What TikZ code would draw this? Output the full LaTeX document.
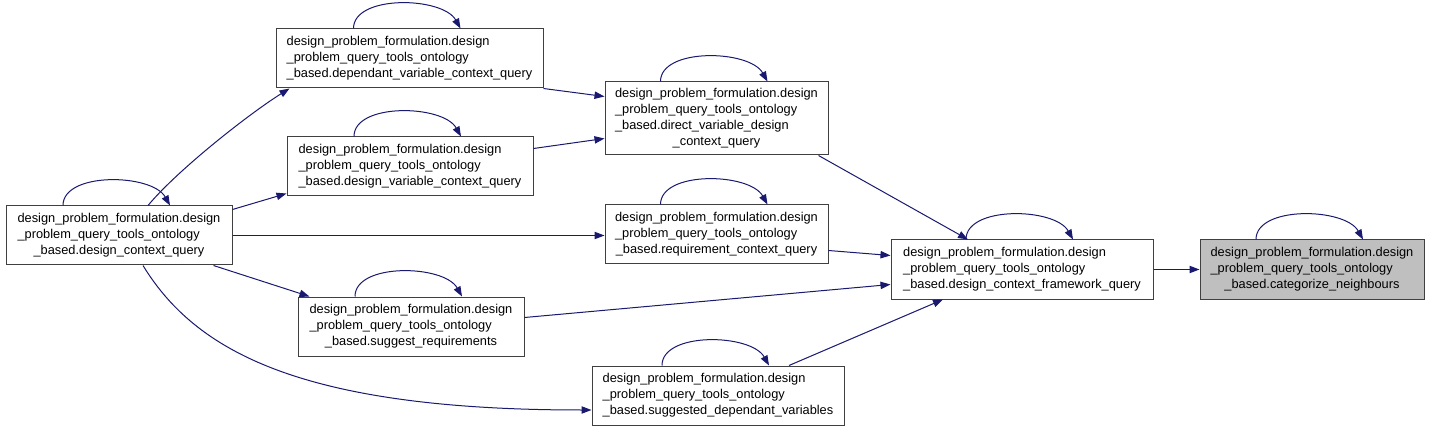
\documentclass[tikz,border=0pt]{standalone}
\usepackage{fontspec}
\setmainfont{Liberation Sans}
\usepackage{tikz}
\usetikzlibrary{arrows.meta,positioning,calc}
\definecolor{edgeblue}{HTML}{191970}
\newcommand{\fname}[2]{\begin{tabular}{@{}l@{}}#1\\\multicolumn{1}{@{}c@{}}{#2}\end{tabular}}
\tikzstyle{func} = [rectangle, draw=black!75, line width=0.75pt, fill=white, inner sep=1pt, minimum height=44.25pt, font=\fontsize{9.6}{12}\selectfont]
\tikzstyle{focus} = [func, fill=black!25]
\tikzstyle{call} = [edgeblue, line width=0.75pt, -{Triangle[length=7.5pt,width=5.5pt]}]

\begin{document}
\begin{tikzpicture}[x=0.75pt, y=-0.75pt, node distance=225pt]
    \useasboundingbox (0,0) rectangle (1429,431);

    % Entry query
    \node [func, minimum width=169.5pt] (ctx) at (119,235.5) {\fname{design\_problem\_formulation.design\\\_problem\_query\_tools\_ontology}{\_based.design\_context\_query}};

    % Second column
    \node [func, minimum width=200.25pt, right of=ctx, xshift=-7.125pt, yshift=132.75pt] (dep) {\fname{design\_problem\_formulation.design\\\_problem\_query\_tools\_ontology}{\_based.dependant\_variable\_context\_query}};
    \node [func, minimum width=184.5pt, right of=ctx, xshift=-6.75pt, yshift=51.75pt] (dvar) {\fname{design\_problem\_formulation.design\\\_problem\_query\_tools\_ontology}{\_based.design\_variable\_context\_query}};
    \node [func, minimum width=169.5pt, right of=ctx, xshift=-6pt, yshift=-68.25pt] (sreq) {\fname{design\_problem\_formulation.design\\\_problem\_query\_tools\_ontology}{\_based.suggest\_requirements}};

    % Third column
    \node [func, minimum width=167.25pt, minimum height=54.75pt, right of=dep, xshift=5.25pt, yshift=-45pt] (direct) {\fname{design\_problem\_formulation.design\\\_problem\_query\_tools\_ontology\\\_based.direct\_variable\_design}{\_context\_query}};
    \node [func, minimum width=167.25pt, right of=dvar, xshift=4.875pt, yshift=-51pt] (req) {\fname{design\_problem\_formulation.design\\\_problem\_query\_tools\_ontology}{\_based.requirement\_context\_query}};
    \node [func, minimum width=189pt, right of=sreq, xshift=5.25pt, yshift=-51.75pt] (sdep) {\fname{design\_problem\_formulation.design\\\_problem\_query\_tools\_ontology}{\_based.suggested\_dependant\_variables}};

    % Framework query
    \node [func, minimum width=196.5pt, right of=req, xshift=4.125pt, yshift=-26.25pt] (frame) {\fname{design\_problem\_formulation.design\\\_problem\_query\_tools\_ontology}{\_based.design\_context\_framework\_query}};

    % Focus function
    \node [focus, minimum width=168pt, right of=frame, xshift=-7.5pt] (cat) {\fname{design\_problem\_formulation.design\\\_problem\_query\_tools\_ontology}{\_based.categorize\_neighbours}};

    % Calls
    \draw [call] ($(ctx.north)+(29,0)$) .. controls +(30,-36) and +(-40,25) .. ($(dep.south west)+(14,0)$);
    \draw [call] ($(ctx.north east)+(0,4)$) -- ($(dvar.south west)+(0,-3)$);
    \draw [call] (ctx.east) -- (ctx.east -| req.west);
    \draw [call] ($(ctx.south east)+(-19,0)$) -- ($(sreq.north west)+(12,0)$);
    \draw [call] ($(ctx.south)+(24,0)$) .. controls +(52,85) and +(-292,0) .. ($(sdep.west)+(0,14.5)$);
    \draw [call] (dep.south east) -- ($(direct.north west)+(0,15)$);
    \draw [call] ($(dvar.north east)+(0,12)$) -- ($(direct.north west)+(0,57)$);
    \draw [call] ($(direct.south east)+(-10,0)$) -- ($(frame.north)+(-54,0)$);
    \draw [call] ($(req.south east)+(0,-14)$) -- ($(frame.north west)+(0,16)$);
    \draw [call] ($(sreq.north east)+(0,21)$) -- ($(frame.south west)+(0,-15)$);
    \draw [call] ($(sdep.north)+(71,0)$) -- ($(frame.south)+(-79,0)$);
    \draw [call] (frame) -- (cat);

    % Recursive calls
    \foreach \n in {ctx,dep,dvar,sreq,direct,req,sdep,frame,cat}
        \draw [call] ($(\n.north)+(-56,0)$) .. controls +(0,-34) and +(-18,-32) .. ($(\n.north)+(51,0)$);
\end{tikzpicture}
\end{document}
